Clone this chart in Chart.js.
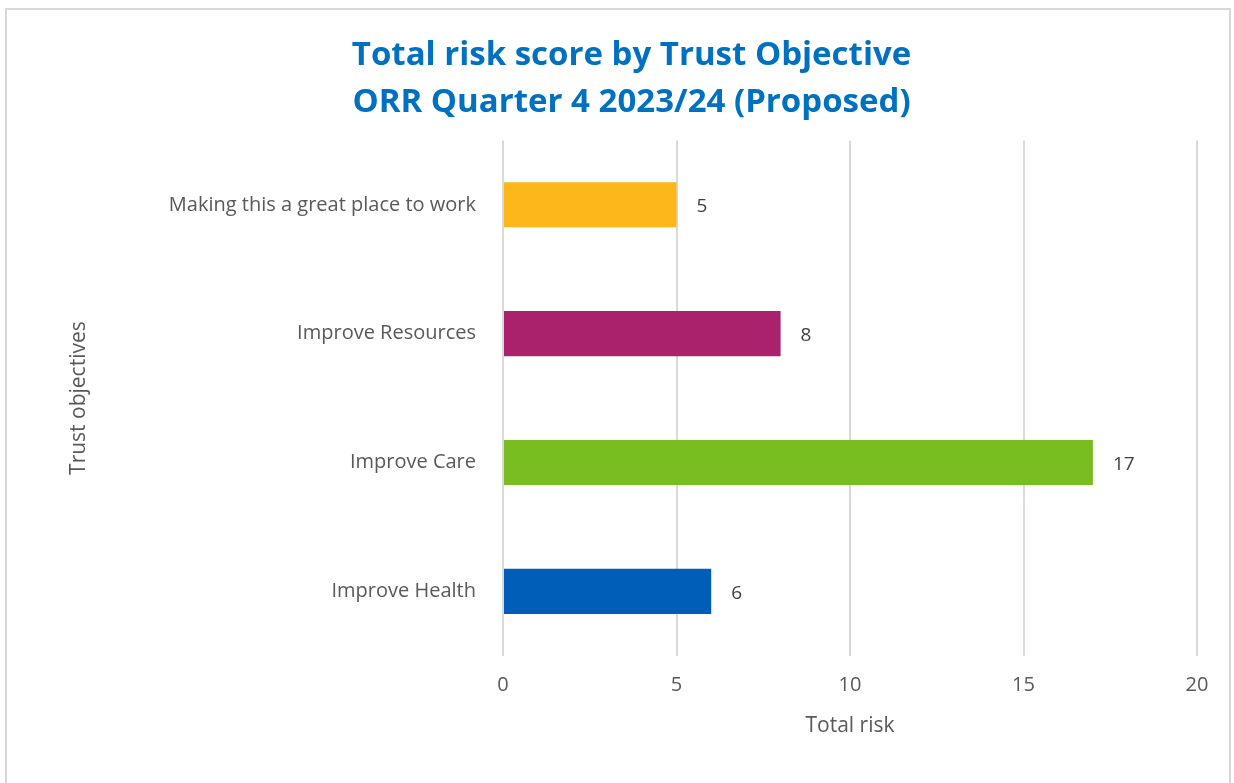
<!DOCTYPE html>
<html>
<head>
<meta charset="utf-8">
<script src="https://cdn.jsdelivr.net/npm/chart.js@4"></script>
<style>
  html, body { margin: 0; padding: 0; background: #fff; overflow: hidden; }
  #wrap { position: relative; width: 1234px; height: 783px; }
  #frame { position: absolute; left: 5px; top: 8px; width: 1226px; height: 800px; border: 2px solid #d9d9d9; box-sizing: border-box; }
  canvas { position: absolute; left: 0; top: 0; }
</style>
</head>
<body>
<div id="wrap">
  <div id="frame"></div>
  <canvas id="c" width="1234" height="783"></canvas>
</div>
<script>
const categories = ["Making this a great place to work", "Improve Resources", "Improve Care", "Improve Health"];
const riskValues = [5, 8, 17, 6];
const barColors = ["#FDB71B", "#AA226C", "#78BE21", "#005EB8"];
const xTicks = [0, 5, 10, 15, 20];
const titleLines = ["Total risk score by Trust Objective", "ORR Quarter 4 2023/24 (Proposed)"];

const FONT = "'Open Sans', 'Liberation Sans', sans-serif";

const valueLabels = {
  id: 'valueLabels',
  afterDatasetsDraw(chart) {
    const ctx = chart.ctx;
    const meta = chart.getDatasetMeta(0);
    ctx.save();
    ctx.font = "19px " + FONT;
    ctx.fillStyle = "#404040";
    ctx.textAlign = "left";
    ctx.textBaseline = "middle";
    meta.data.forEach((bar, i) => {
      ctx.fillText(String(riskValues[i]), bar.x + 20, bar.y + 2);
    });
    ctx.restore();
  }
};

new Chart(document.getElementById('c'), {
  type: 'bar',
  data: {
    labels: categories,
    datasets: [{
      data: riskValues,
      backgroundColor: barColors,
      borderWidth: 0,
      barPercentage: 0.35,
      categoryPercentage: 1.0
    }]
  },
  options: {
    indexAxis: 'y',
    responsive: false,
    animation: false,
    devicePixelRatio: 1,
    layout: { padding: { left: 66, right: 37, top: 20, bottom: 44 } },
    plugins: {
      legend: { display: false },
      tooltip: { enabled: false },
      title: {
        display: true,
        text: titleLines,
        color: "#0070C0",
        font: { family: FONT, size: 33, weight: 'bold', lineHeight: 1.43 },
        padding: { top: 12, bottom: 14 }
      }
    },
    scales: {
      x: {
        min: 0, max: 20,
        afterBuildTicks(scale) { scale.ticks = xTicks.map(v => ({ value: v })); },
        grid: { color: "#d9d9d9", lineWidth: 2, drawTicks: false },
        border: { display: false },
        ticks: { color: "#595959", font: { family: FONT, size: 20 }, padding: 17 },
        title: { display: true, text: "Total risk", color: "#595959", font: { family: FONT, size: 21 }, padding: { top: 0, bottom: 0 } }
      },
      y: {
        grid: { display: false },
        border: { display: false },
        ticks: { color: "#595959", font: { family: FONT, size: 20 }, padding: 19 },
        title: { display: true, text: "Trust objectives", color: "#595959", font: { family: FONT, size: 21 }, padding: 0 },
        afterFit(scale) { scale.width = 503 - 66; }
      }
    }
  },
  plugins: [valueLabels]
});
</script>
</body>
</html>
